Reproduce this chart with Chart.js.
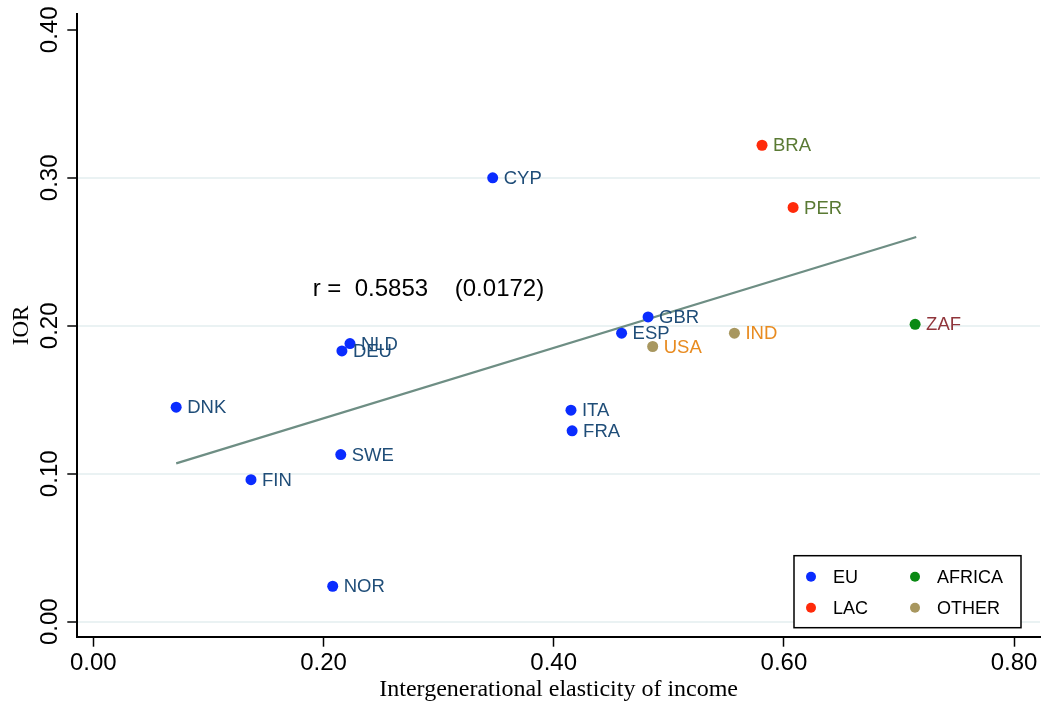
<!DOCTYPE html>
<html>
<head>
<meta charset="utf-8">
<script src="https://cdn.jsdelivr.net/npm/chart.js@4"></script>
<style>
  html, body { margin: 0; padding: 0; background: #fff; }
  #wrap { width: 1055px; height: 706px; position: relative; }
</style>
</head>
<body>
<div id="wrap"><canvas id="chart"></canvas></div>
<script>
// values
const euCountries = ['DNK', 'FIN', 'SWE', 'NOR', 'DEU', 'NLD', 'CYP', 'ITA', 'FRA', 'ESP', 'GBR'];
const euIGE = [0.072, 0.137, 0.215, 0.208, 0.216, 0.223, 0.347, 0.415, 0.416, 0.459, 0.482];
const euIOR = [0.145, 0.096, 0.113, 0.024, 0.183, 0.188, 0.300, 0.143, 0.129, 0.195, 0.206];

const lacCountries = ['BRA', 'PER'];
const lacIGE = [0.581, 0.608];
const lacIOR = [0.322, 0.280];

const africaCountries = ['ZAF'];
const africaIGE = [0.714];
const africaIOR = [0.201];

const otherCountries = ['USA', 'IND'];
const otherIGE = [0.486, 0.557];
const otherIOR = [0.186, 0.195];

const fitIGE = [0.072, 0.715];
const fitIOR = [0.107, 0.260];

const xTicks = [0, 0.2, 0.4, 0.6, 0.8];
const yTicks = [0, 0.1, 0.2, 0.3, 0.4];
const corrText = 'r =  0.5853    (0.0172)';
const corrPos = [0.1906, 0.2243];

const sans = '"Liberation Sans", Arial, sans-serif';
const serif = '"Liberation Serif", "Times New Roman", serif';

const toPoints = (xs, ys) => xs.map((x, i) => ({ x: x, y: ys[i] }));

const groupDataset = (label, names, xs, ys, color, textColor) => ({
    type: 'scatter',
    label: label,
    data: toPoints(xs, ys),
    names: names,
    textColor: textColor,
    backgroundColor: color,
    borderColor: color,
    pointRadius: 5.5,
    pointBorderWidth: 0
});

const datasets = [
    groupDataset('EU', euCountries, euIGE, euIOR, '#0a2cff', '#1f4d78'),
    groupDataset('LAC', lacCountries, lacIGE, lacIOR, '#ff2a0a', '#5a7a34'),
    groupDataset('AFRICA', africaCountries, africaIGE, africaIOR, '#0a8a14', '#90353b'),
    groupDataset('OTHER', otherCountries, otherIGE, otherIOR, '#a8975f', '#e88b20'),
    {
        type: 'line',
        label: 'fit',
        data: toPoints(fitIGE, fitIOR),
        borderColor: '#6e8e84',
        borderWidth: 2.2,
        pointRadius: 0,
        fill: false,
        inLegend: false
    }
];

// country codes next to the dots, and the r annotation
const pointLabels = {
    id: 'pointLabels',
    afterDatasetsDraw(chart) {
        const ctx = chart.ctx;
        ctx.save();
        ctx.font = '18.5px ' + sans;
        ctx.textAlign = 'left';
        ctx.textBaseline = 'middle';
        chart.data.datasets.forEach((ds, i) => {
            if (!ds.names) return;
            const meta = chart.getDatasetMeta(i);
            ctx.fillStyle = ds.textColor;
            meta.data.forEach((pt, j) => {
                ctx.fillText(ds.names[j], pt.x + 11, pt.y + 1);
            });
        });
        const sx = chart.scales.x, sy = chart.scales.y;
        ctx.font = '24px ' + sans;
        ctx.fillStyle = '#000';
        ctx.fillText(corrText, sx.getPixelForValue(corrPos[0]), sy.getPixelForValue(corrPos[1]));
        ctx.restore();
    }
};

// boxed two-column legend in the lower right corner
const boxLegend = {
    id: 'boxLegend',
    afterDraw(chart) {
        const ctx = chart.ctx;
        const area = chart.chartArea;
        const items = chart.data.datasets.filter(d => d.inLegend !== false);
        const w = 227, h = 72;
        const left = area.right - 19 - w;
        const top = area.bottom - 9 - h;
        ctx.save();
        ctx.fillStyle = '#fff';
        ctx.fillRect(left, top, w, h);
        ctx.strokeStyle = '#000';
        ctx.lineWidth = 1.5;
        ctx.strokeRect(left, top, w, h);
        ctx.font = '18px ' + sans;
        ctx.textBaseline = 'middle';
        ctx.textAlign = 'left';
        items.forEach((d, k) => {
            const col = Math.floor(k / 2), row = k % 2;
            const cx = left + 17 + col * 104;
            const cy = top + 21 + row * 31;
            ctx.fillStyle = d.backgroundColor;
            ctx.beginPath();
            ctx.arc(cx, cy, 5, 0, Math.PI * 2);
            ctx.fill();
            ctx.fillStyle = '#000';
            ctx.fillText(d.label, cx + 22, cy + 1);
        });
        ctx.restore();
    }
};

new Chart(document.getElementById('chart'), {
    data: { datasets: datasets },
    plugins: [pointLabels, boxLegend],
    options: {
        responsive: true,
        maintainAspectRatio: false,
        animation: false,
        layout: { padding: { top: 14, right: 15, left: 0, bottom: 0 } },
        plugins: {
            legend: { display: false },
            tooltip: { enabled: false }
        },
        scales: {
            x: {
                type: 'linear',
                min: -0.0139,
                max: 0.8225,
                afterBuildTicks: s => { s.ticks = xTicks.map(v => ({ value: v })); },
                afterFit: s => { s.height = 69.3; },
                ticks: {
                    callback: v => v.toFixed(2),
                    font: { family: sans, size: 24 },
                    color: '#000',
                    padding: 2,
                    maxRotation: 0,
                    autoSkip: false
                },
                grid: {
                    drawOnChartArea: false,
                    tickLength: 10,
                    tickColor: '#000',
                    tickWidth: 1.5
                },
                border: { color: '#000', width: 2 },
                title: {
                    display: true,
                    text: 'Intergenerational elasticity of income',
                    font: { family: serif, size: 24 },
                    color: '#000',
                    padding: { top: 0, bottom: 1.5 }
                }
            },
            y: {
                type: 'linear',
                min: -0.0101,
                max: 0.4107,
                afterBuildTicks: s => { s.ticks = yTicks.map(v => ({ value: v })); },
                afterFit: s => { s.width = 77.3; },
                ticks: {
                    callback: v => v.toFixed(2),
                    font: { family: sans, size: 24 },
                    color: '#000',
                    minRotation: 90,
                    maxRotation: 90,
                    crossAlign: 'center',
                    padding: -6,
                    autoSkip: false
                },
                grid: {
                    color: c => (c.tick && c.tick.value >= 0.4) ? 'rgba(0,0,0,0)' : '#eaf2f3',
                    lineWidth: 2,
                    tickLength: 10,
                    tickColor: '#000',
                    tickWidth: 1.5
                },
                border: { color: '#000', width: 2 },
                title: {
                    display: true,
                    text: 'IOR',
                    font: { family: serif, size: 23 },
                    color: '#000',
                    padding: { top: 8, bottom: 0 }
                }
            }
        }
    }
});
</script>
</body>
</html>
